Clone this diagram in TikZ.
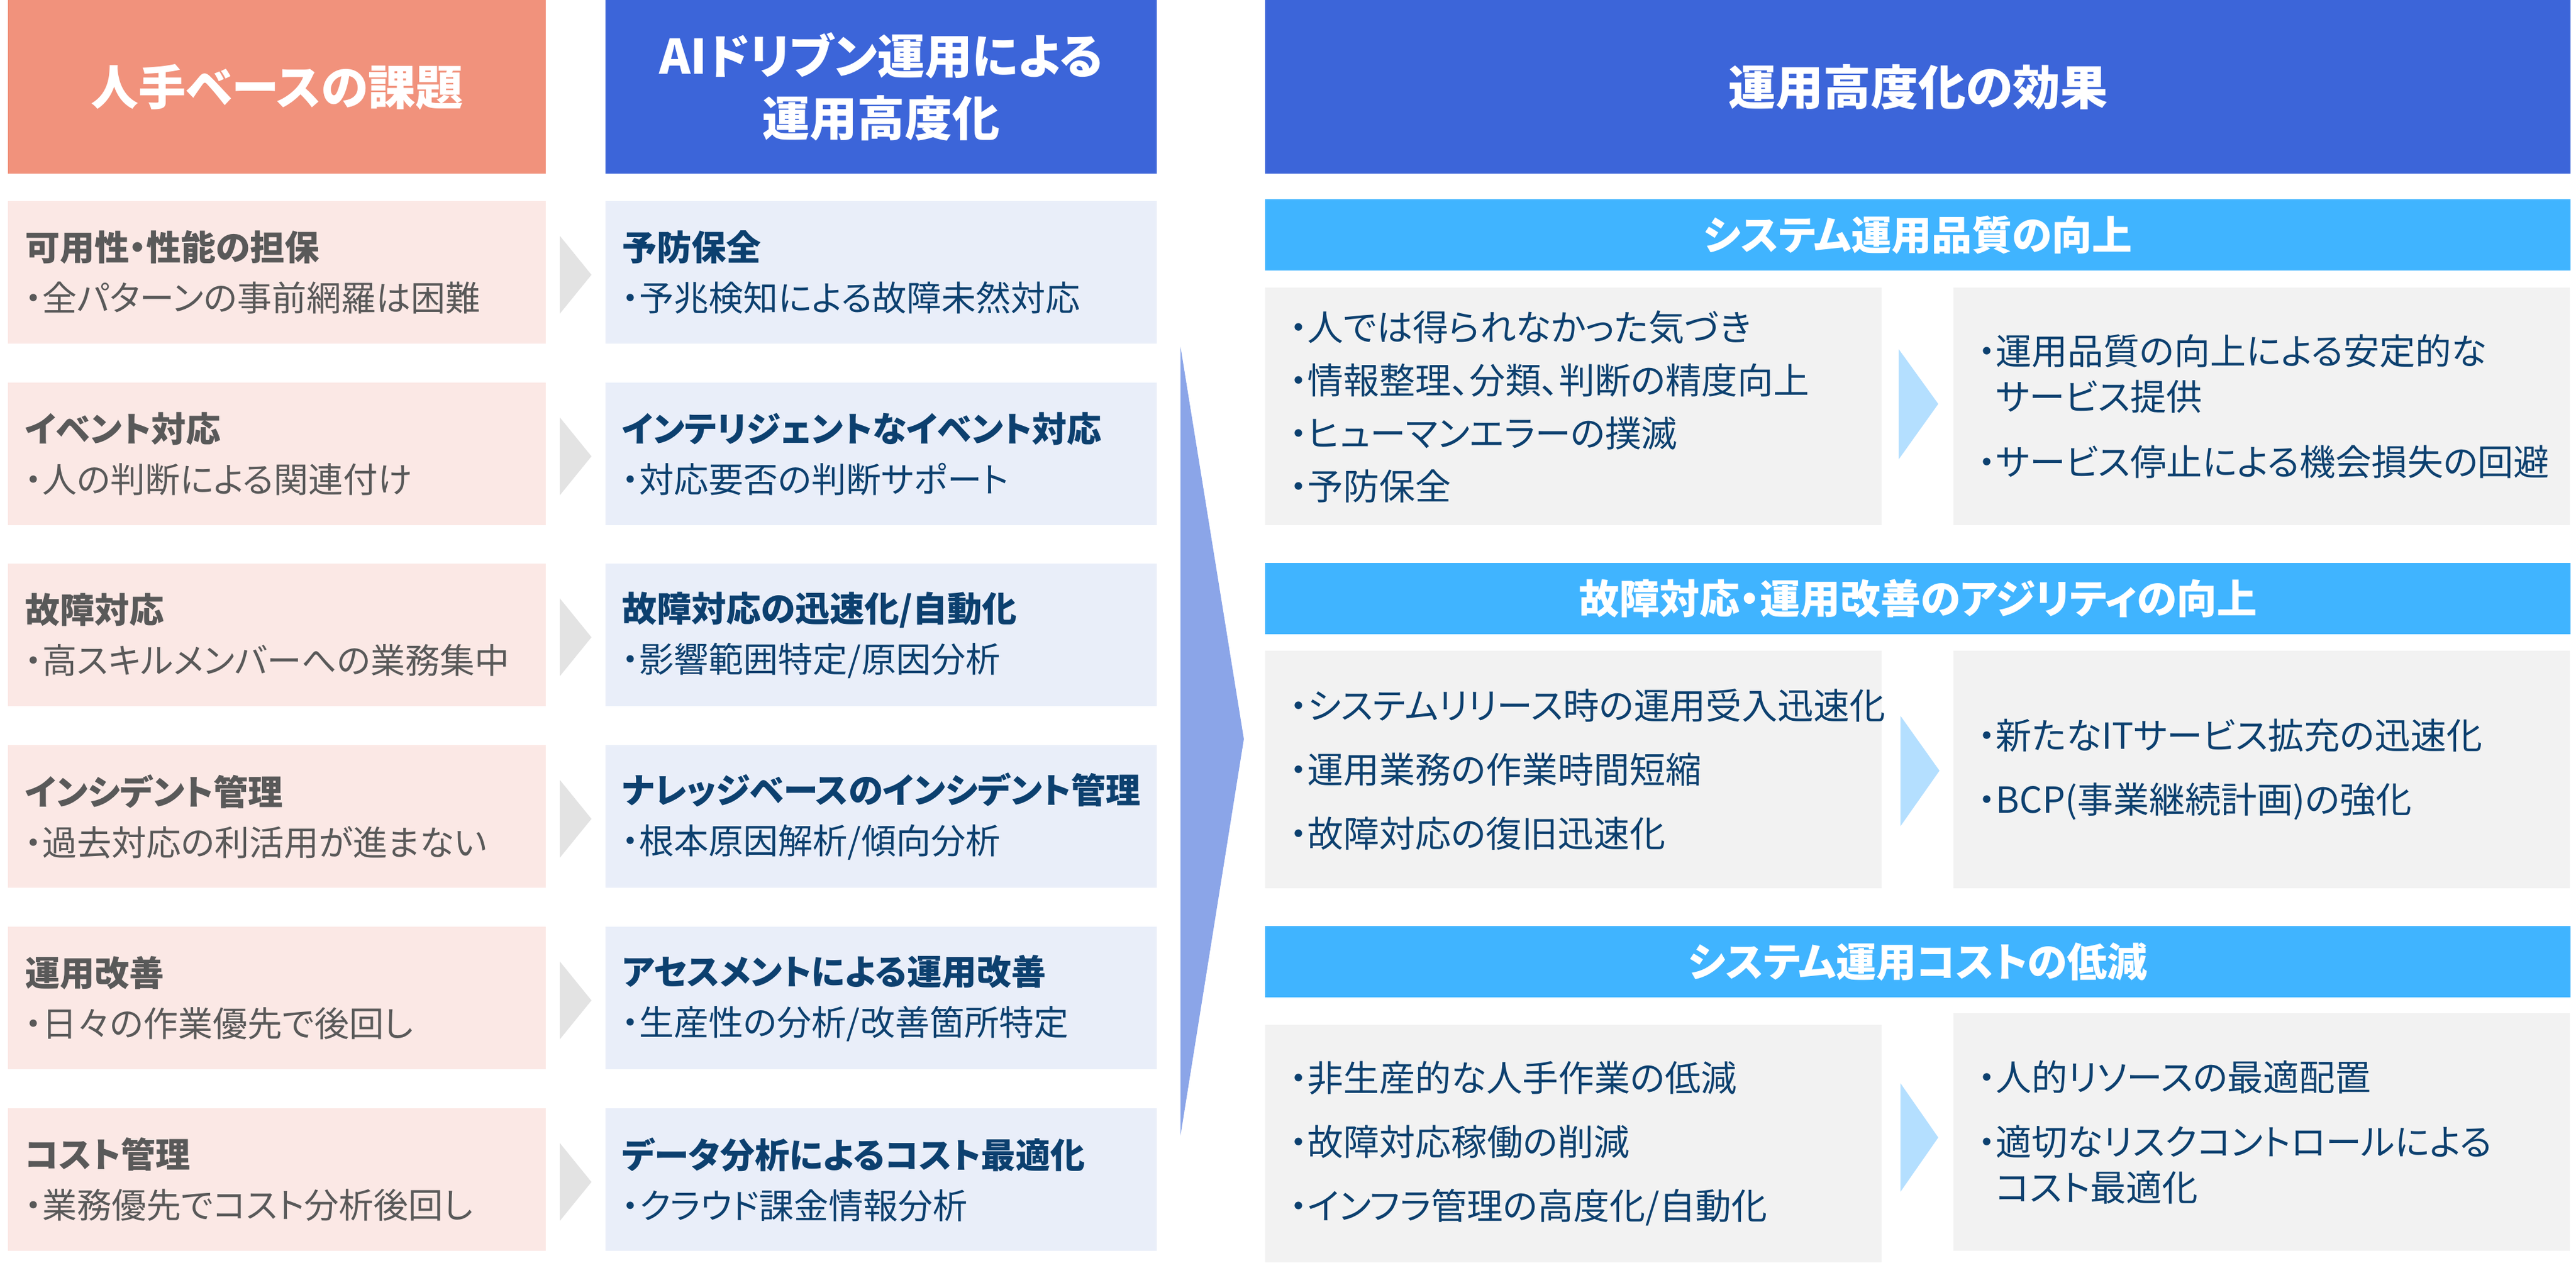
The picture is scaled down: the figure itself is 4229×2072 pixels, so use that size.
\documentclass[tikz,border=0pt]{standalone}
\usepackage{fontspec}
\setmainfont{Noto Sans CJK JP}[RawFeature=+palt]

\definecolor{issuehead}{HTML}{F1927C}
\definecolor{aihead}{HTML}{3C65D9}
\definecolor{issuefill}{HTML}{FBE8E5}
\definecolor{aifill}{HTML}{E9EEF9}
\definecolor{issuetext}{HTML}{595959}
\definecolor{aitext}{HTML}{0C406F}
\definecolor{chevgray}{HTML}{E3E3E3}
\definecolor{bigarrow}{HTML}{8BA5E8}
\definecolor{bandblue}{HTML}{40B4FF}
\definecolor{efffill}{HTML}{F2F2F2}
\definecolor{effarrow}{HTML}{B4DFFF}

\begin{document}
\begin{tikzpicture}[x=1pt, y=-1pt,
  head/.style={anchor=north west, inner sep=0, minimum height=285, text=white,
    align=center, font=\fontsize{78}{102}\selectfont\bfseries},
  issue/.style={anchor=north west, fill=issuefill, text=issuetext, minimum width=883,
    minimum height=234, text width=827pt, inner xsep=28, inner ysep=0, align=left,
    font=\fontsize{57}{83}\selectfont},
  ai/.style={issue, fill=aifill, text=aitext, minimum width=905, text width=851pt, inner xsep=27},
  band/.style={anchor=north west, fill=bandblue, minimum width=2143, minimum height=117,
    inner sep=0, text=white, font=\fontsize{66}{80}\selectfont\bfseries},
  effect/.style={anchor=north west, fill=efffill, text=aitext, minimum width=1012,
    minimum height=390, text width=932pt, inner xsep=40, inner ysep=0, align=left,
    font=\fontsize{59}{75}\selectfont}]
  \useasboundingbox (0,0) rectangle (4229,2072);

  % column headers
  \node (hIssue) [head, fill=issuehead, minimum width=883] at (13,0) {人手ベースの課題};
  \node (hAI) [head, fill=aihead, minimum width=905] at (994,0) {AIドリブン運用による\\運用高度化};
  \node (hEffect) [head, fill=aihead, minimum width=2143] at (2077,0) {運用高度化の効果};

  % issues
  \node (i1) [issue] at (13,330) {\textbf{可用性・性能の担保}\\・全パターンの事前網羅は困難};
  \node (i2) [issue] at (13,628) {\textbf{イベント対応}\\・人の判断による関連付け};
  \node (i3) [issue] at (13,925) {\textbf{故障対応}\\・高スキルメンバーへの業務集中};
  \node (i4) [issue] at (13,1223) {\textbf{インシデント管理}\\・過去対応の利活用が進まない};
  \node (i5) [issue] at (13,1521) {\textbf{運用改善}\\・日々の作業優先で後回し};
  \node (i6) [issue] at (13,1819) {\textbf{コスト管理}\\・業務優先でコスト分析後回し};

  % AI driven
  \node (a1) [ai] at (994,330) {\textbf{予防保全}\\・予兆検知による故障未然対応};
  \node (a2) [ai] at (994,628) {\textbf{インテリジェントなイベント対応}\\・対応要否の判断サポート};
  \node (a3) [ai] at (994,925) {\textbf{故障対応の迅速化/自動化}\\・影響範囲特定/原因分析};
  \node (a4) [ai] at (994,1223) {\textbf{ナレッジベースのインシデント管理}\\・根本原因解析/傾向分析};
  \node (a5) [ai] at (994,1521) {\textbf{アセスメントによる運用改善}\\・生産性の分析/改善箇所特定};
  \node (a6) [ai] at (994,1819) {\textbf{データ分析によるコスト最適化}\\・クラウド課金情報分析};

  % small arrows
  \fill [chevgray] (919,387) -- (971,451) -- (919,515) -- cycle;
  \fill [chevgray] (919,685) -- (971,749) -- (919,813) -- cycle;
  \fill [chevgray] (919,982) -- (971,1046) -- (919,1110) -- cycle;
  \fill [chevgray] (919,1280) -- (971,1344) -- (919,1408) -- cycle;
  \fill [chevgray] (919,1578) -- (971,1642) -- (919,1706) -- cycle;
  \fill [chevgray] (919,1876) -- (971,1940) -- (919,2004) -- cycle;

  % big arrow
  \fill [bigarrow] (1938,569) -- (2042,1213) -- (1938,1864) -- cycle;

  % effects
  \node (b1) [band] at (2077,327) {システム運用品質の向上};
  \node (e1l) [effect] at (2077,472) {・人では得られなかった気づき\\[12pt]・情報整理、分類、判断の精度向上\\[12pt]・ヒューマンエラーの撲滅\\[12pt]・予防保全};
  \node (e1r) [effect] at (3207,472) {・運用品質の向上による安定的な\\\phantom{・}サービス提供\\[32pt]・サービス停止による機会損失の回避};

  \node (b2) [band] at (2077,924) {故障対応・運用改善のアジリティの向上};
  \node (e2l) [effect] at (2077,1068) {・システムリリース時の運用受入迅速化\\[30pt]・運用業務の作業時間短縮\\[30pt]・故障対応の復旧迅速化};
  \node (e2r) [effect] at (3207,1068) {・新たなITサービス拡充の迅速化\\[30pt]・BCP(事業継続計画)の強化};

  \node (b3) [band] at (2077,1520) {システム運用コストの低減};
  \node (e3l) [effect] at (2077,1682) {・非生産的な人手作業の低減\\[30pt]・故障対応稼働の削減\\[30pt]・インフラ管理の高度化/自動化};
  \node (e3r) [effect] at (3207,1663) {・人的リソースの最適配置\\[31pt]・適切なリスクコントロールによる\\\phantom{・}コスト最適化};

  \fill [effarrow] (3117,573) -- (3182,663) -- (3117,754) -- cycle;
  \fill [effarrow] (3120,1175) -- (3184,1265) -- (3120,1356) -- cycle;
  \fill [effarrow] (3120,1778) -- (3182,1867) -- (3120,1956) -- cycle;
\end{tikzpicture}
\end{document}
